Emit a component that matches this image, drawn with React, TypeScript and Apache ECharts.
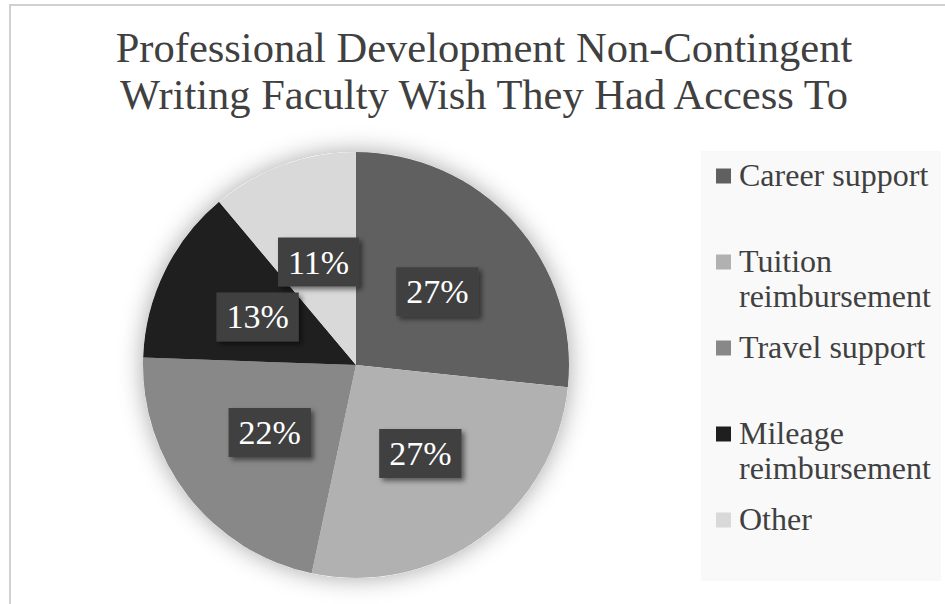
import React, { useEffect, useRef } from "react";
import * as echarts from "echarts";

const titleLines = [
  "Professional Development Non-Contingent",
  "Writing Faculty Wish They Had Access To",
];
const categories = [
  "Career support",
  "Tuition reimbursement",
  "Travel support",
  "Mileage reimbursement",
  "Other",
];
const legendLabels = [
  ["Career support"],
  ["Tuition", "reimbursement"],
  ["Travel support"],
  ["Mileage", "reimbursement"],
  ["Other"],
];
const responses = [12, 12, 10, 6, 5];
const sliceColors = ["#606060", "#b1b1b1", "#888888", "#1f1f1f", "#d9d9d9"];

const FONT = "'Liberation Serif', 'Times New Roman', serif";

export default function App() {
  const ref = useRef<HTMLDivElement>(null);

  useEffect(() => {
    if (!ref.current) return;
    const chart = echarts.init(ref.current, null, { renderer: "svg" });

    const legendX = 716;
    const legendTop = 176;
    const legendStep = 86;
    const legendGraphics: any[] = [];
    legendLabels.forEach((lines, i) => {
      const cy = legendTop + i * legendStep;
      legendGraphics.push({
        type: "rect",
        shape: { x: legendX, y: cy - 7.5, width: 15, height: 15 },
        style: { fill: sliceColors[i] },
        z: 10,
      });
      legendGraphics.push({
        type: "text",
        x: 739,
        y: cy - 1 - 17.5,
        style: {
          text: lines.join("\n"),
          font: `32px ${FONT}`,
          fill: "#404040",
          lineHeight: 35,
          verticalAlign: "top",
          align: "left",
        },
        z: 10,
      });
    });

    chart.setOption({
      animation: false,
      backgroundColor: "#ffffff",
      title: {
        text: titleLines.join("\n"),
        left: 484,
        top: 24,
        padding: 0,
        textAlign: "center",
        textStyle: {
          fontFamily: FONT,
          fontSize: 42.5,
          fontWeight: "normal",
          color: "#404040",
          lineHeight: 47,
        },
      },
      graphic: [
        {
          type: "rect",
          shape: { x: 10, y: 5, width: 980, height: 660 },
          style: { fill: "none", stroke: "#d0d0d0", lineWidth: 2 },
          z: 0,
          silent: true,
        },
        {
          type: "rect",
          shape: { x: 701, y: 151, width: 240, height: 430 },
          style: { fill: "#f9f9f9" },
          z: 1,
          silent: true,
        },
        ...legendGraphics,
      ],
      series: [
        {
          type: "pie",
          silent: true,
          z: 1,
          center: [356, 365],
          radius: 213,
          label: { show: false },
          labelLine: { show: false },
          itemStyle: {
            color: "#ffffff",
            shadowBlur: 24,
            shadowColor: "rgba(0,0,0,0.35)",
          },
          data: [{ value: 1, name: "shadow" }],
        },
        {
          type: "pie",
          z: 2,
          center: [356, 365],
          radius: 213,
          startAngle: 90,
          clockwise: true,
          data: categories.map((name, i) => ({
            name,
            value: responses[i],
            itemStyle: { color: sliceColors[i] },
          })),
          labelLine: { show: false },
          label: {
            show: true,
            position: "inside",
            formatter: (p: any) => `${Math.round(p.percent)}%`,
            fontFamily: FONT,
            fontSize: 34,
            lineHeight: 35,
            color: "#ffffff",
            backgroundColor: "#404040",
            padding: [7, 10],
            shadowColor: "rgba(0,0,0,0.5)",
            shadowBlur: 5,
            shadowOffsetX: 3,
            shadowOffsetY: 3,
          },
          emphasis: { disabled: true },
        },
      ],
    });

    return () => chart.dispose();
  }, []);

  return (
    <div
      ref={ref}
      style={{ position: "fixed", left: 0, top: 0, width: 945, height: 604 }}
    />
  );
}
